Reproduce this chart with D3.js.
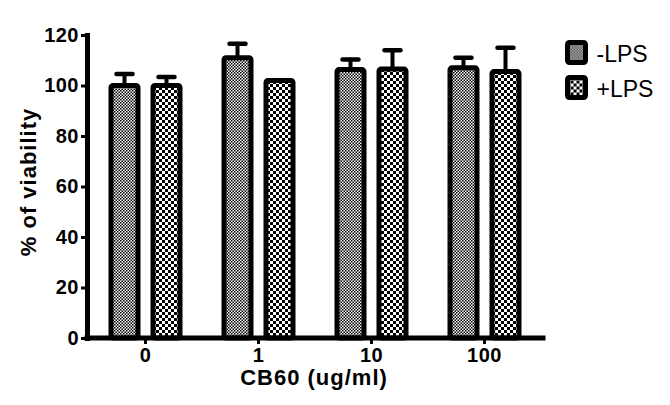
<!DOCTYPE html>
<html>
<head>
<meta charset="utf-8">
<script src="https://cdn.jsdelivr.net/npm/d3@7"></script>
<style>
  body { margin: 0; background: #fff; }
  text { font-family: "Liberation Sans", Arial, sans-serif; }
</style>
</head>
<body>
<svg id="chart" width="670" height="405"></svg>
<script>
'use strict';

// chart data
const doses = ['0', '1', '10', '100'];
const series = ['-LPS', '+LPS'];
const minusLPS = [100, 111, 106.3, 107];
const minusLPSErr = [4.6, 5.5, 4, 4];
const plusLPS = [100, 102, 106.5, 105.5];
const plusLPSErr = [3.4, 0, 7.5, 9.5];
const yTicks = [0, 20, 40, 60, 80, 100, 120];

const values = {'-LPS': minusLPS, '+LPS': plusLPS};
const errors = {'-LPS': minusLPSErr, '+LPS': plusLPSErr};
const patternId = {'-LPS': 'fine', '+LPS': 'coarse'};

const svg = d3.select('#chart');
const defs = svg.append('defs');

// checker fills: small squares for -LPS, bigger squares for +LPS
const checker = (id, size) => {
  const p = defs.append('pattern')
    .attr('id', id)
    .attr('patternUnits', 'userSpaceOnUse')
    .attr('width', size * 2)
    .attr('height', size * 2);
  p.append('rect').attr('width', size * 2).attr('height', size * 2).attr('fill', '#fff');
  p.append('rect').attr('width', size).attr('height', size).attr('fill', '#000');
  p.append('rect').attr('x', size).attr('y', size).attr('width', size).attr('height', size).attr('fill', '#000');
};
checker('fine', 1.5);
checker('coarse', 3);

const x0 = d3.scaleBand()
  .domain(doses)
  .range([89, 541]);

const x1 = d3.scaleBand()
  .domain(series)
  .range([-42, 42]);

const y = d3.scaleLinear()
  .domain([0, 120])
  .range([338, 35]);

const barW = 27;

// bars
const rows = [];
series.forEach(s => {
  doses.forEach((d, i) => {
    rows.push({s, d, v: values[s][i], e: errors[s][i]});
  });
});
const cx = r => x0(r.d) + x0.bandwidth() / 2 + x1(r.s) + x1.bandwidth() / 2;

const bars = svg.append('g').attr('class', 'bars');
bars.selectAll('rect')
  .data(rows)
  .join('rect')
  .attr('x', r => cx(r) - barW / 2)
  .attr('y', r => y(r.v))
  .attr('width', barW)
  .attr('height', r => y(0) - y(r.v))
  .attr('rx', 2)
  .attr('fill', r => `url(#${patternId[r.s]})`)
  .attr('stroke', '#000')
  .attr('stroke-width', 5)
  .attr('stroke-linejoin', 'round');

// error bars (upper only)
const err = svg.append('g').attr('class', 'errors')
  .attr('stroke', '#000')
  .attr('stroke-linecap', 'round');
err.selectAll('line.whisker')
  .data(rows.filter(r => r.e > 0))
  .join('line')
  .attr('class', 'whisker')
  .attr('x1', cx)
  .attr('x2', cx)
  .attr('y1', r => y(r.v))
  .attr('y2', r => y(r.v + r.e))
  .attr('stroke-width', 4);
err.selectAll('line.cap')
  .data(rows.filter(r => r.e > 0))
  .join('line')
  .attr('class', 'cap')
  .attr('x1', r => cx(r) - 8)
  .attr('x2', r => cx(r) + 8)
  .attr('y1', r => y(r.v + r.e))
  .attr('y2', r => y(r.v + r.e))
  .attr('stroke-width', 4.5);

// axes
const yAxis = svg.append('g')
  .attr('transform', 'translate(87,0)')
  .call(d3.axisLeft(y).tickValues(yTicks).tickSize(6).tickSizeOuter(0).tickPadding(2));

const xAxis = svg.append('g')
  .attr('transform', 'translate(0,338)')
  .call(d3.axisBottom(x0).tickSize(6).tickSizeOuter(0).tickPadding(4));
xAxis.select('.domain').attr('d', 'M87,0H543');

[yAxis, xAxis].forEach(a => {
  a.select('.domain')
    .attr('stroke', '#000')
    .attr('stroke-width', 5)
    .attr('stroke-linecap', 'square');
  a.selectAll('.tick line')
    .attr('stroke', '#000')
    .attr('stroke-width', 3);
  a.selectAll('.tick text')
    .attr('fill', '#000')
    .style('font-size', '20px')
    .style('font-weight', 'bold')
    .style('letter-spacing', '0.5px');
});

// axis titles
svg.append('text')
  .attr('transform', 'translate(36,182) rotate(-90)')
  .attr('text-anchor', 'middle')
  .style('font-size', '22px')
  .style('font-weight', 'bold')
  .style('letter-spacing', '1px')
  .text('% of viability');

svg.append('text')
  .attr('x', 314)
  .attr('y', 385)
  .attr('text-anchor', 'middle')
  .style('font-size', '22px')
  .style('font-weight', 'bold')
  .style('letter-spacing', '1px')
  .text('CB60 (ug/ml)');

// legend
const legend = svg.append('g')
  .selectAll('g')
  .data(series)
  .join('g')
  .attr('transform', (d, i) => `translate(567.5,${42.5 + i * 35})`);
legend.append('rect')
  .attr('width', 18)
  .attr('height', 20)
  .attr('rx', 2)
  .attr('fill', d => `url(#${patternId[d]})`)
  .attr('stroke', '#000')
  .attr('stroke-width', 5)
  .attr('stroke-linejoin', 'round');
legend.append('text')
  .attr('x', 29)
  .attr('y', 19)
  .style('font-size', '23px')
  .text(d => d);
</script>
</body>
</html>
